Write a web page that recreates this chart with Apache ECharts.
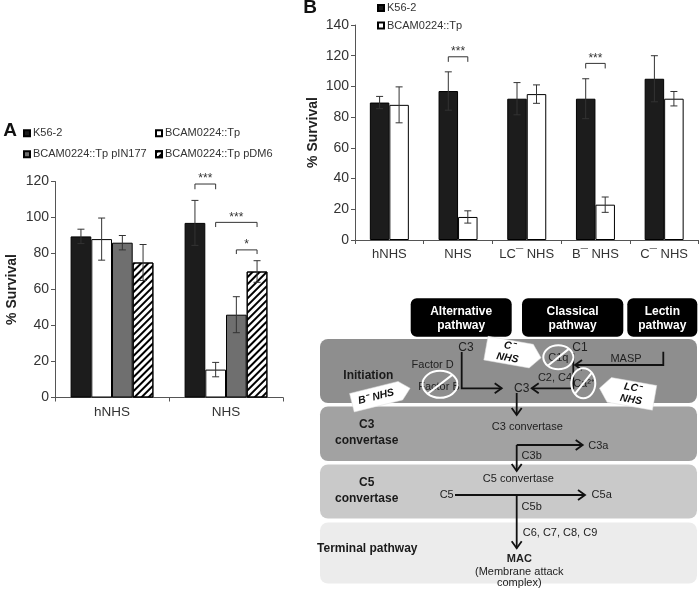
<!DOCTYPE html>
<html><head><meta charset="utf-8">
<script src="https://cdn.jsdelivr.net/npm/echarts@6/dist/echarts.min.js"></script>
<style>html,body{margin:0;padding:0;background:#fff}#c{width:700px;height:590px}</style>
</head><body><div id="c"></div>
<script>
// ---------- data ----------
const catsA = ['hNHS', 'NHS'];
const namesA = ['K56-2', 'BCAM0224::Tp', 'BCAM0224::Tp pIN177', 'BCAM0224::Tp pDM6'];
const aK56 = [89.5, 97];     const aK56Err = [4, 12.5];
const aTp = [88, 15.5];      const aTpErr = [11.7, 4];
const aPIN = [86, 46];       const aPINErr = [4, 10];
const aPDM = [75, 70];       const aPDMErr = [10, 6];
const ticksA = [0, 20, 40, 60, 80, 100, 120];

const catsB = ['hNHS', 'NHS', 'LC¯ NHS', 'B¯ NHS', 'C¯ NHS'];
const namesB = ['K56-2', 'BCAM0224::Tp'];
const bK56 = [89.5, 97, 92, 92, 105];   const bK56Err = [4, 12.5, 10.5, 13, 15];
const bTp = [88, 15, 95, 23, 92];       const bTpErr = [11.7, 4, 6, 5, 4.7];
const ticksB = [0, 20, 40, 60, 80, 100, 120, 140];

// significance brackets: [category, barFrom, barTo, topValue, legValue]
const bracketsA = [[1, 0, 1, 118.6, 115.7], [1, 1, 3, 97.3, 94.7], [1, 2, 3, 82, 79.7]];
const bracketLabelsA = ['***', '***', '*'];
const bracketsB = [[1, 0, 1, 119.3, 116], [3, 0, 1, 115, 111.7]];
const bracketLabelsB = ['***', '***'];

// ---------- styles ----------
const FONT = '"Liberation Sans", Arial, Helvetica, sans-serif';
const TXT = '#333';
const AX = '#555';
const barWA = 20.7, barWB = 19.5;
const styles = [
  {color: '#1c1c1c', borderColor: '#000', borderWidth: 1},
  {color: '#ffffff', borderColor: '#000', borderWidth: 1},
  {color: '#6f6f6f', borderColor: '#000', borderWidth: 1},
  {color: '#ffffff', borderColor: '#000', borderWidth: 1,
   decal: {symbol: 'rect', symbolSize: 1, color: '#000', dashArrayX: [1, 0], dashArrayY: [2, 3], rotation: -Math.PI / 4}}
];

function errSeries(name, xi, yi, vals, errs, idx, n, w) {
  return {
    type: 'custom', name: name, xAxisIndex: xi, yAxisIndex: yi, z: 10, silent: true,
    data: vals.map((v, i) => [i, v, errs[i]]),
    encode: {x: 0, y: 1},
    renderItem: function (params, api) {
      const i = api.value(0), v = api.value(1), e = api.value(2);
      const off = (idx - (n - 1) / 2) * w;
      const top = api.coord([i, v + e]), bot = api.coord([i, v - e]);
      const x = top[0] + off;
      const s = {stroke: '#333', lineWidth: 1};
      return {type: 'group', children: [
        {type: 'line', shape: {x1: x, y1: top[1], x2: x, y2: bot[1]}, style: s},
        {type: 'line', shape: {x1: x - 3.5, y1: top[1], x2: x + 3.5, y2: top[1]}, style: s},
        {type: 'line', shape: {x1: x - 3.5, y1: bot[1], x2: x + 3.5, y2: bot[1]}, style: s}
      ]};
    }
  };
}
function bracketSeries(xi, yi, data, labels, n, w) {
  return {
    type: 'custom', xAxisIndex: xi, yAxisIndex: yi, z: 10, silent: true,
    data: data, encode: {x: 0, y: 3},
    renderItem: function (params, api) {
      const c = api.coord([api.value(0), api.value(3)]);
      const leg = api.coord([api.value(0), api.value(4)])[1];
      const xL = c[0] + (api.value(1) - (n - 1) / 2) * w;
      const xR = c[0] + (api.value(2) - (n - 1) / 2) * w;
      return {type: 'group', children: [
        {type: 'polyline', shape: {points: [[xL, leg], [xL, c[1]], [xR, c[1]], [xR, leg]]}, style: {stroke: '#333', lineWidth: 1, fill: null}},
        {type: 'text', x: (xL + xR) / 2, y: c[1] + 1, style: {text: labels[params.dataIndex], fill: TXT, font: '12px ' + FONT, align: 'center', verticalAlign: 'bottom'}}
      ]};
    }
  };
}

const series = [];
const valsA = [aK56, aTp, aPIN, aPDM], errsA = [aK56Err, aTpErr, aPINErr, aPDMErr];
valsA.forEach((v, k) => series.push({type: 'bar', name: namesA[k], xAxisIndex: 0, yAxisIndex: 0, data: v,
  barWidth: barWA, barGap: '0%', itemStyle: styles[k], silent: true}));
valsA.forEach((v, k) => series.push(errSeries('errA' + k, 0, 0, v, errsA[k], k, 4, barWA)));
const valsB = [bK56, bTp], errsB = [bK56Err, bTpErr];
valsB.forEach((v, k) => series.push({type: 'bar', name: namesB[k], xAxisIndex: 1, yAxisIndex: 1, data: v,
  barWidth: barWB, barGap: '0%', itemStyle: styles[k], silent: true}));
valsB.forEach((v, k) => series.push(errSeries('errB' + k, 1, 1, v, errsB[k], k, 2, barWB)));
series.push(bracketSeries(0, 0, bracketsA, bracketLabelsA, 4, barWA));
series.push(bracketSeries(1, 1, bracketsB, bracketLabelsB, 2, barWB));

function xAx(gi, cats, fs) {
  return {type: 'category', gridIndex: gi, data: cats,
    axisLine: {lineStyle: {color: AX, width: 1}},
    axisTick: {show: true, length: 4, lineStyle: {color: AX}},
    axisLabel: {color: TXT, fontSize: fs, fontFamily: FONT, margin: 8, interval: 0}};
}
function yAx(gi, ticks, gap) {
  return {type: 'value', gridIndex: gi, min: ticks[0], max: ticks[ticks.length - 1], interval: ticks[1] - ticks[0],
    name: '% Survival', nameLocation: 'middle', nameGap: gap,
    nameTextStyle: {color: '#222', fontSize: 14, fontWeight: 'bold', fontFamily: FONT},
    axisLine: {show: true, lineStyle: {color: AX, width: 1}},
    axisTick: {show: true, length: 4, lineStyle: {color: AX}},
    splitLine: {show: false},
    axisLabel: {color: TXT, fontSize: 14, fontFamily: FONT, margin: 6}};
}

// ---------- diagram helpers ----------
function T(x, y, s, o) {
  return {type: 'text', x: x, y: y, z: 20, style: Object.assign({text: s, fill: '#222', font: '11px ' + FONT, align: 'center', verticalAlign: 'middle'}, o || {})};
}
function PL(pts, o) {
  return {type: 'polyline', z: 20, shape: {points: pts}, style: Object.assign({stroke: '#111', lineWidth: 1.8, fill: null}, o || {})};
}
function ARR(pts) {
  const n = pts.length; const [x1, y1] = pts[n - 2]; const [x2, y2] = pts[n - 1];
  const a = Math.atan2(y2 - y1, x2 - x1), L = 7, W = 5;
  const p1 = [x2 - L * Math.cos(a) + W * Math.sin(a), y2 - L * Math.sin(a) - W * Math.cos(a)];
  const p2 = [x2 - L * Math.cos(a) - W * Math.sin(a), y2 - L * Math.sin(a) + W * Math.cos(a)];
  return [PL(pts), PL([p1, [x2, y2], p2])];
}
function RR(x, y, w, h, fill, r) {
  return {type: 'rect', z: 15, shape: {x: x, y: y, width: w, height: h, r: r}, style: {fill: fill}};
}
function NOT(cx, cy, rx, ry) {
  const s = {stroke: '#fff', lineWidth: 2, fill: null};
  return [{type: 'ellipse', z: 22, shape: {cx: cx, cy: cy, rx: rx, ry: ry}, style: s},
    {type: 'line', z: 22, shape: {x1: cx - rx * 0.7, y1: cy + ry * 0.7, x2: cx + rx * 0.7, y2: cy - ry * 0.7}, style: s}];
}
function TAG(cx, cy, w, h, tipRight, rotDeg, text) {
  const hw = w / 2, hh = h / 2, t = 10;
  const pts = tipRight
    ? [[-hw, -hh], [hw - t, -hh], [hw, 0], [hw - t, hh], [-hw, hh]]
    : [[hw, -hh], [-hw + t, -hh], [-hw, 0], [-hw + t, hh], [hw, hh]];
  const tx = tipRight ? -t / 2 : t / 2;
  return {type: 'group', x: cx, y: cy, rotation: rotDeg * Math.PI / 180, z: 25, children: [
    {type: 'polygon', z: 25, shape: {points: pts}, style: {fill: '#fff', stroke: '#ddd', lineWidth: 0.5}},
    {type: 'text', z: 26, x: tx, y: 0, style: {text: text, fill: '#111', font: 'italic bold 10.5px ' + FONT, align: 'center', verticalAlign: 'middle', lineHeight: 12}}
  ]};
}

const g = [];
// panel letters
g.push(T(10, 131, 'A', {font: 'bold 19px ' + FONT, fill: '#111'}));
g.push(T(310, 8, 'B', {font: 'bold 19px ' + FONT, fill: '#111'}));
// header boxes
g.push(RR(410.7, 298.3, 101, 38.4, '#000', 6));
g.push(RR(522, 298.3, 101.3, 38.4, '#000', 6));
g.push(RR(627.3, 298.3, 70, 38.4, '#000', 6));
const hb = {fill: '#fff', font: 'bold 12px ' + FONT, lineHeight: 13.5};
g.push(T(461.2, 318.5, 'Alternative\npathway', hb));
g.push(T(572.6, 318.5, 'Classical\npathway', hb));
g.push(T(662.3, 318.5, 'Lectin\npathway', hb));
// bands
g.push(RR(320, 339, 377, 64, '#8e8e8e', 8));
g.push(RR(320, 406.5, 377, 54.5, '#a2a2a2', 8));
g.push(RR(320, 464.5, 377, 54, '#c9c9c9', 8));
g.push(RR(320, 522.5, 377, 61, '#ececec', 8));
const bold = {font: 'bold 12px ' + FONT, fill: '#1a1a1a', lineHeight: 16};
g.push(T(368.3, 376, 'Initiation', bold));
g.push(T(366.7, 433, 'C3\nconvertase', bold));
g.push(T(366.7, 490.7, 'C5\nconvertase', bold));
g.push(T(367.3, 548.3, 'Terminal pathway', bold));
// initiation content
g.push(T(466, 347.3, 'C3', {font: '12px ' + FONT}));
g.push(T(432.7, 365, 'Factor D'));
g.push(T(439, 386.7, 'Factor B'));
g.push(T(521.7, 388.3, 'C3', {font: '12px ' + FONT}));
g.push(T(555, 378.3, 'C2, C4'));
g.push(T(580, 347.3, 'C1', {font: '12px ' + FONT}));
g.push(T(558.3, 357.8, 'C1q'));
g.push(T(626, 359.3, 'MASP'));
g.push(T(584, 383.8, 'Ca²⁺'));
g.push(...ARR([[461.7, 352], [461.7, 388.3], [501.7, 388.3]]));
g.push(...ARR([[573.3, 353], [573.3, 388.3], [531.7, 388.3]]));
g.push(...ARR([[663.3, 351.7], [663.3, 365], [575, 365]]));
g.push(...ARR([[516.7, 393], [516.7, 415]]));
g.push(...NOT(440, 384.3, 17.5, 13.5));
g.push(...NOT(558.3, 357.3, 15, 12));
g.push(...NOT(583.3, 383.3, 12, 15));
g.push(TAG(513.5, 353, 56, 24, true, -10, 'C⁻\nNHS'));
g.push(TAG(381, 395.5, 60, 19, true, 14, 'B⁻ NHS'));
g.push(TAG(627, 393, 56, 25, false, -10, 'LC⁻\nNHS'));
// C3 convertase
g.push(T(527.3, 426.7, 'C3 convertase'));
g.push(...ARR([[516.7, 445], [582.7, 445]]));
g.push(...ARR([[516.7, 445], [516.7, 471]]));
g.push(T(598.3, 445.7, 'C3a'));
g.push(T(531.7, 456, 'C3b'));
// C5 convertase
g.push(T(518.3, 479.3, 'C5 convertase'));
g.push(T(446.7, 495, 'C5'));
g.push(...ARR([[455, 495], [585, 495]]));
g.push(T(601.7, 495, 'C5a'));
g.push(...ARR([[516.7, 495], [516.7, 548.3]]));
g.push(T(531.7, 507.3, 'C5b'));
g.push(T(560, 532.7, 'C6, C7, C8, C9'));
g.push(T(519.3, 559.3, 'MAC', {font: 'bold 11px ' + FONT}));
g.push(T(519.3, 572, '(Membrane attack'));
g.push(T(519.3, 583.3, 'complex)'));

const legBase = {orient: 'vertical', padding: 0, itemWidth: 6, itemHeight: 6, selectedMode: false, icon: 'rect',
  textStyle: {color: TXT, fontSize: 11, fontFamily: FONT, padding: [0, 0, 0, -2]}};
const option = {
  animation: false,
  backgroundColor: '#fff',
  legend: [
    Object.assign({}, legBase, {left: 23, top: 127.8, itemGap: 10, data: [namesA[0], namesA[2]]}),
    Object.assign({}, legBase, {left: 155, top: 127.8, itemGap: 10, data: [namesA[1], namesA[3]]}),
    Object.assign({}, legBase, {left: 377, top: 2.5, itemGap: 6.5, data: [namesB[0], namesB[1]]})
  ],
  grid: [
    {left: 55, top: 181.5, width: 228, height: 216},
    {left: 355, top: 25, width: 343.5, height: 215}
  ],
  xAxis: [xAx(0, catsA, 13.5), xAx(1, catsB, 13)],
  yAxis: [yAx(0, ticksA, 36), yAx(1, ticksB, 35)],
  series: series,
  graphic: g
};
const chart = echarts.init(document.getElementById('c'), null, {renderer: 'canvas'});
chart.setOption(option);
</script></body></html>
